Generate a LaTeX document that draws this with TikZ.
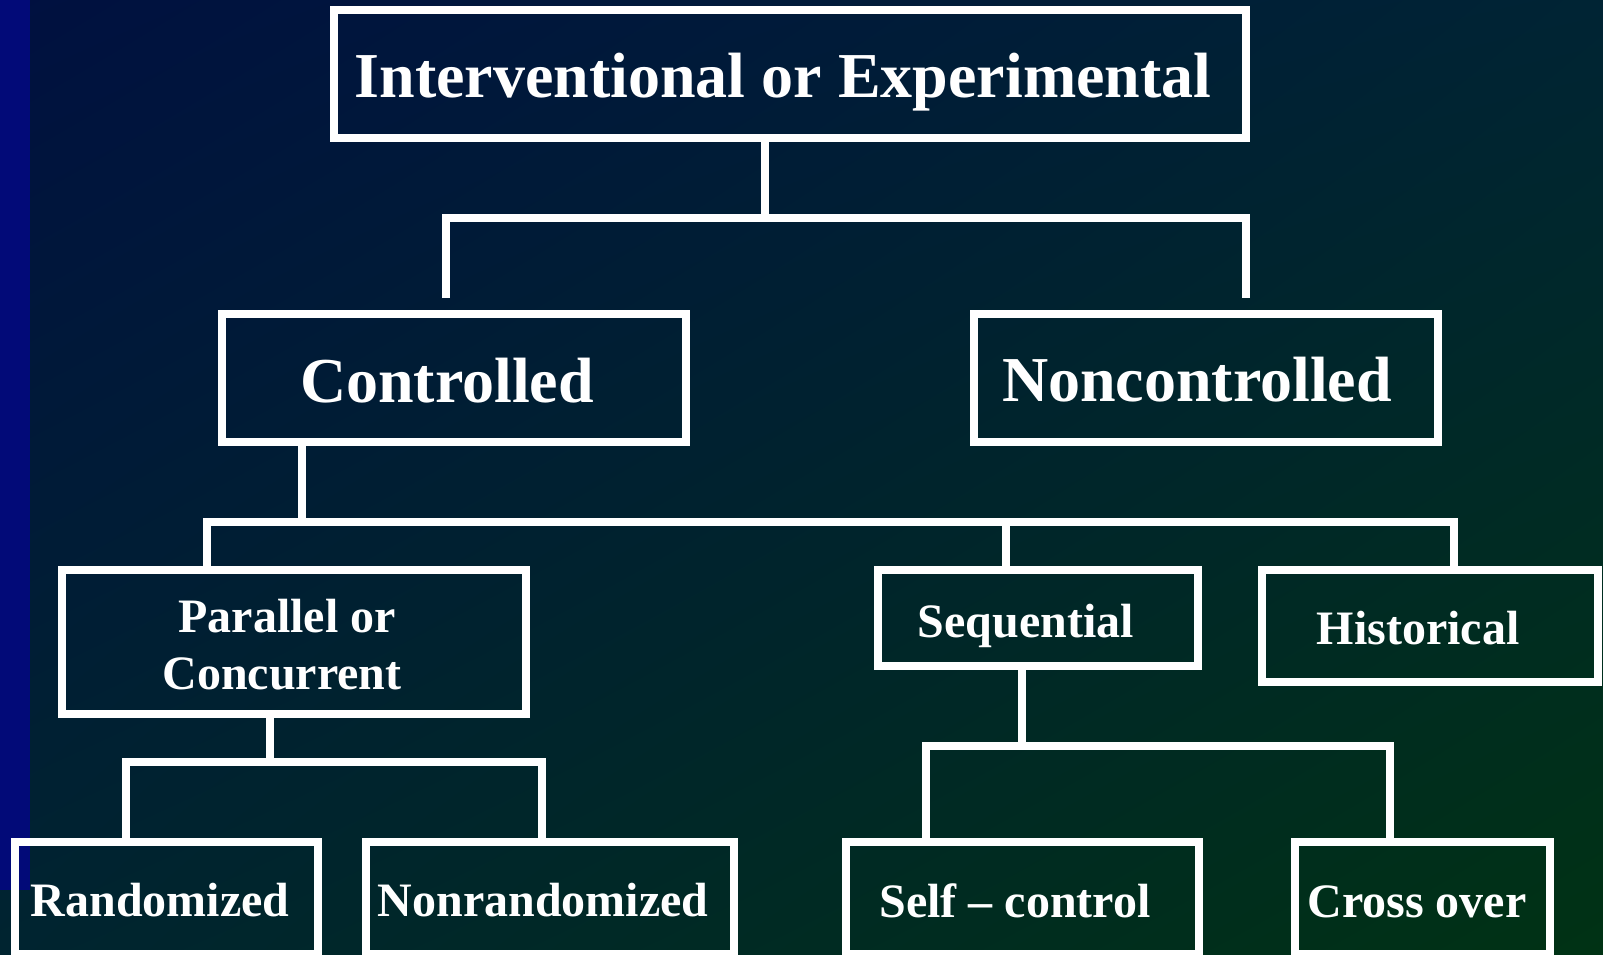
\documentclass[tikz,border=0pt]{standalone}
\usepackage{fontspec}
\setmainfont{Liberation Serif}
\usetikzlibrary{shadings}
\definecolor{bgTL}{RGB}{0,16,64}
\definecolor{bgTR}{RGB}{0,36,52}
\definecolor{bgBL}{RGB}{0,36,48}
\definecolor{bgBR}{RGB}{0,50,20}
\definecolor{strip}{RGB}{2,10,120}
\begin{document}
\begin{tikzpicture}[x=1pt,y=-1pt,
  box/.style={draw=white, line width=8pt, rectangle, inner sep=0pt, outer sep=0pt},
  big/.style={text=white, font=\fontsize{64}{70}\selectfont\bfseries, anchor=base, inner sep=0pt},
  small/.style={text=white, font=\fontsize{48}{56}\selectfont\bfseries, anchor=base, inner sep=0pt},
  link/.style={draw=white, line width=8pt}]
\useasboundingbox (0,0) rectangle (1603,954);
\shade[upper left=bgTL, upper right=bgTR, lower left=bgBL, lower right=bgBR] (0,0) rectangle (1603,954);
\fill[strip] (0,0) rectangle (30,890);

% boxes
\node[box, minimum width=912pt, minimum height=128pt] (top) at (790,74) {};
\node[box, minimum width=464pt, minimum height=128pt] (ctrl) at (454,378) {};
\node[box, minimum width=464pt, minimum height=128pt] (nonc) at (1206,378) {};
\node[box, minimum width=464pt, minimum height=144pt] (par) at (294,642) {};
\node[box, minimum width=320pt, minimum height=96pt] (seq) at (1038,618) {};
\node[box, minimum width=336pt, minimum height=112pt] (hist) at (1430,626) {};
\node[box, minimum width=303pt, minimum height=112pt] (rand) at (166.5,898) {};
\node[box, minimum width=368pt, minimum height=112pt] (nonr) at (550,898) {};
\node[box, minimum width=353pt, minimum height=112pt] (self) at (1022.5,898) {};
\node[box, minimum width=255pt, minimum height=112pt] (cross) at (1422.5,898) {};

% junction coordinates
\coordinate (a1) at (765,218);
\coordinate (a2) at (446,218);
\coordinate (a3) at (1246,218);
\coordinate (a2e) at (446,298);
\coordinate (a3e) at (1246,298);
\coordinate (b1) at (302,522);
\coordinate (b2) at (207,522);
\coordinate (b3) at (1454,522);
\coordinate (b4) at (1006,522);
\coordinate (c1) at (270,762);
\coordinate (c2) at (126,762);
\coordinate (c3) at (542,762);
\coordinate (d1) at (1022,746);
\coordinate (d2) at (926,746);
\coordinate (d3) at (1390,746);

% connectors
\draw[link] (a1 |- top.south) -- (a1);
\draw[link] (a2e) -- (a2) -- (a3) -- (a3e);
\draw[link] (b1 |- ctrl.south) -- (b1);
\draw[link] (b2 |- par.north) -- (b2) -- (b3) -- (b3 |- hist.north);
\draw[link] (b4) -- (b4 |- seq.north);
\draw[link] (c1 |- par.south) -- (c1);
\draw[link] (c2 |- rand.north) -- (c2) -- (c3) -- (c3 |- nonr.north);
\draw[link] (d1 |- seq.south) -- (d1);
\draw[link] (d2 |- self.north) -- (d2) -- (d3) -- (d3 |- cross.north);

% texts
\node[big] (top-t) at (783,97) {Interventional or Experimental};
\node[big] (ctrl-t) at (447,402) {Controlled};
\node[big] (nonc-t) at (1197,401) {Noncontrolled};
\node[small] (par-t1) at (287,632) {Parallel or};
\node[small] (par-t2) at (282,689) {Concurrent};
\node[small] (seq-t) at (1026,637) {Sequential};
\node[small] (hist-t) at (1418,644) {Historical};
\node[small] (rand-t) at (160,916) {Randomized};
\node[small] (nonr-t) at (543,916) {Nonrandomized};
\node[small] (self-t) at (1015,917) {Self – control};
\node[small] (cross-t) at (1417,917) {Cross over};
\end{tikzpicture}
\end{document}
